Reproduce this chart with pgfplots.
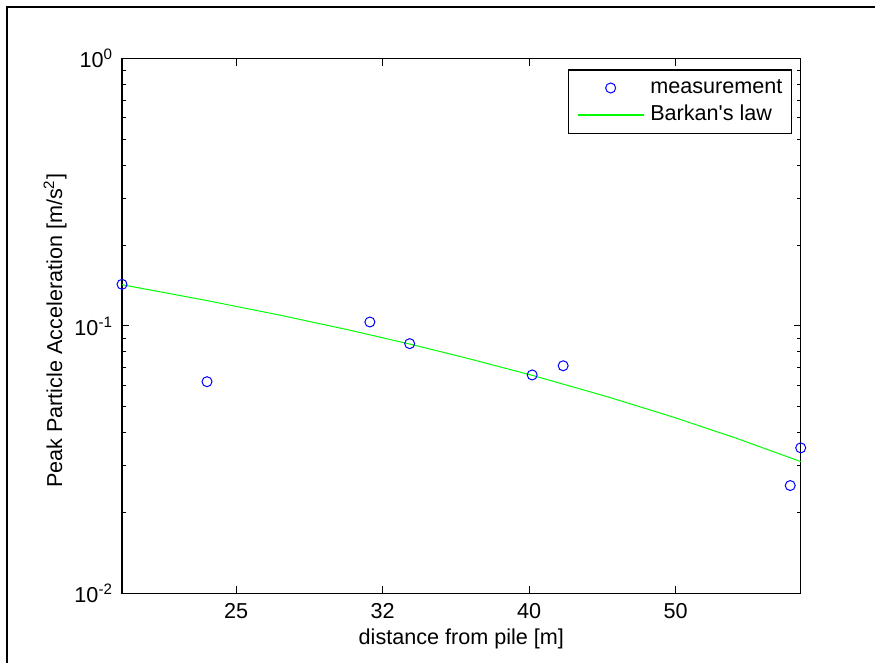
\documentclass[border=0pt]{standalone}
\usepackage{fontspec}
\setmainfont{Liberation Sans}
\usepackage{pgfplots}
\pgfplotsset{compat=1.18}
\definecolor{mblue}{RGB}{0,0,255}
\definecolor{mgreen}{RGB}{0,255,0}
\newcommand{\ff}{\fontsize{10.8}{13}\selectfont}
\pgfplotsset{
  markleg/.style={legend image code/.code={\draw[##1] plot coordinates {(16.5pt,0pt)};}},
  lineleg/.style={legend image code/.code={\draw[##1, draw=mgreen, line width=0.6pt] (0pt,0pt) -- (33pt,0pt);}},
}

\begin{document}
\begin{tikzpicture}
\useasboundingbox (0,0) rectangle (437.5pt,331.5pt);
\fill[white] (0,0) rectangle (437.5pt,331.5pt);
\draw[line width=1pt] (3.65pt,-1pt) -- (3.65pt,328pt) -- (438pt,328pt);
\begin{axis}[
  at={(61pt,34.85pt)}, anchor=south west,
  scale only axis, width=339.35pt, height=267.3pt,
  xmode=log, ymode=log,
  xmin=21, xmax=61, ymin=0.01, ymax=1,
  xtick={25.1189,31.6228,39.8107,50.1187},
  xticklabels={25,32,40,50},
  xminorticks=false,
  ytick={0.01,0.1,1},
  yticklabels={10\textsuperscript{-2},10\textsuperscript{-1},10\textsuperscript{0}},
  tick label style={font=\ff},
  xticklabel style={yshift=-1.75pt},
  yticklabel style={xshift=-1pt},
  major tick length=3.5pt, minor tick length=1.75pt,
  tick style={black, line width=0.5pt},
  axis line style={line width=0.6pt},
  clip=false,
  xlabel={distance from pile [m]},
  xlabel style={at={(axis description cs:0.5,-0.0853)}, anchor=center, font=\ff},
  ylabel={Peak Particle Acceleration [m/s\textsuperscript{2}]},
  ylabel style={at={(axis description cs:-0.0987,0.491)}, anchor=center, font=\ff},
  legend cell align=left,
  legend style={at={(rel axis cs:1,1)}, anchor=north east, xshift=-4.5pt, yshift=-5.3pt,
    draw=black, line width=0.6pt, inner xsep=4.4pt, inner ysep=3.8pt,
    row sep=3pt, column sep=3pt, font=\ff,
    nodes={inner sep=0pt, text height=8pt, text depth=2.5pt}},
]
\addplot[only marks, mark=o, mark size=2.5pt, color=mblue, line width=0.5pt, markleg]
  coordinates {
  (21,0.1432) (24,0.0619) (31,0.1035) (33,0.0859)
  (40,0.0656) (42,0.0710) (60,0.0253) (61,0.0350)
};
\addlegendentry{measurement}
\addplot[color=mgreen, line width=0.5pt, no marks, lineleg]
  coordinates {
  (21,0.1427) (24,0.1245) (27,0.1094) (30,0.0966) (33,0.0856)
  (36,0.0761) (40,0.0654) (45,0.0544) (50,0.0455) (55,0.0382) (61,0.0311)
};
\addlegendentry{Barkan\textquotesingle s law}
\end{axis}
\end{tikzpicture}
\end{document}
